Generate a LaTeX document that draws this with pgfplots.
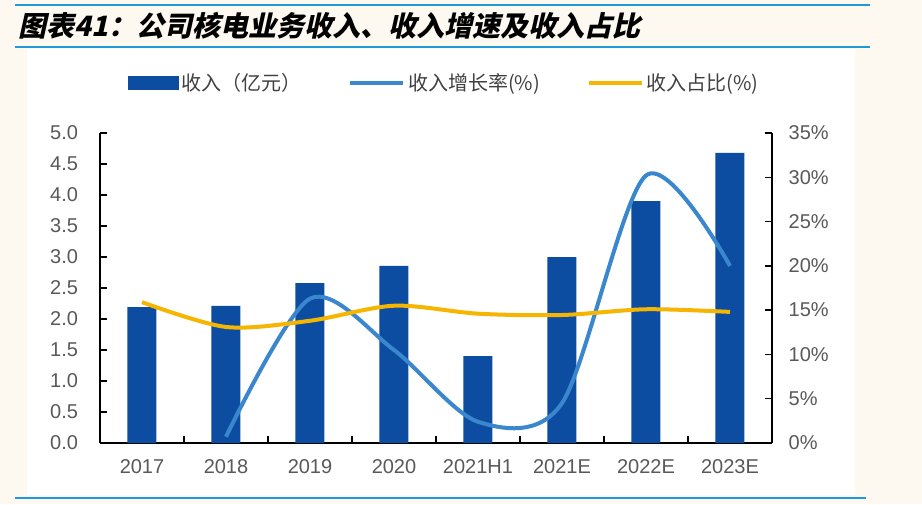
\documentclass[border=0pt]{standalone}
\usepackage{pgfplots}
\pgfplotsset{compat=1.18}
\usepackage{fontspec}
\setmainfont{Liberation Sans}
\newfontfamily\cjk{Noto Sans CJK SC}
\newfontfamily\cjktitle[FakeSlant=0.22]{Noto Sans CJK SC}

\definecolor{barblue}{RGB}{12,77,162}
\definecolor{lineblue}{RGB}{58,135,206}
\definecolor{lineyellow}{RGB}{245,181,0}
\definecolor{cream}{RGB}{253,249,240}
\definecolor{rulecol}{RGB}{30,155,215}
\definecolor{ticktext}{RGB}{89,89,89}
\definecolor{legtext}{RGB}{64,64,64}

\pgfplotsset{
  common/.style={
    at={(75pt,45.75pt)}, anchor=south west,
    scale only axis, width=504pt, height=232.5pt,
    xmin=-0.5, xmax=7.5,
    tick align=inside,
    tick style={black, line width=1pt},
    major tick length=5pt, minor tick length=5pt,
    tick label style={ticktext, font=\fontsize{15}{18}\selectfont},
    /pgf/number format/assume math mode=true,
    x axis line style={-, line width=1pt},
    y axis line style={-, line width=1pt},
  },
}

\begin{document}
\begin{tikzpicture}[x=0.75pt,y=0.75pt]
\useasboundingbox (0,0) rectangle (922,504);
\fill[cream] (0,0) rectangle (922,504);
\fill[white] (27,9) rectangle (855,455);
\draw[rulecol, line width=1.6pt] (15,499) -- (870,499);
\draw[rulecol, line width=1.6pt] (15,457) -- (870,457);
\draw[rulecol, line width=1.2pt] (15,6) -- (866,6);
\node[anchor=west, inner sep=0] at (18,478)
  {\fontsize{21}{24}\selectfont\cjktitle\bfseries 图表41：公司核电业务收入、收入增速及收入占比};

% revenue bars, left axis
\begin{axis}[common,
  ymin=0, ymax=5,
  axis x line*=bottom, axis y line*=left,
  xtick={0,...,7},
  xticklabels={2017,2018,2019,2020,2021H1,2021E,2022E,2023E},
  major x tick style={draw=none},
  minor xtick={0.5,1.5,...,6.5},
  xticklabel style={yshift=-9pt},
  ytick={0,0.5,...,5},
  yticklabel style={xshift=-13pt, /pgf/number format/.cd, fixed, fixed zerofill, precision=1},
]
\addplot[ybar, bar width=21.75pt, fill=barblue, draw=none] coordinates {
  (0,2.19) (1,2.21) (2,2.58) (3,2.855) (4,1.40) (5,3.00) (6,3.90) (7,4.68)
};
\end{axis}

% growth and share, right axis
\begin{axis}[common,
  ymin=0, ymax=35,
  axis x line=none, axis y line*=right,
  ytick={0,5,...,35},
  yticklabel={\pgfmathprintnumber{\tick}\%},
  yticklabel style={xshift=9pt},
  legend columns=3,
  legend style={at={(0.513,1.161)}, anchor=center, draw=none, fill=none,
    font=\fontsize{15}{17}\selectfont\cjk, text=legtext,
    /tikz/every even column/.append style={column sep=33pt}},
  legend image code/.code={\draw[#1] (0pt,0pt) -- (40pt,0pt);},
]
\addlegendimage{legend image code/.code={\fill[barblue] (0pt,-5pt) rectangle (37.5pt,5pt);}}
\addlegendentry{收入（亿元）}
\addplot[lineblue, line width=3pt, smooth] coordinates {
  (1,0.7) (2,16.3) (3,10.5) (4,2.4) (5,4.5) (6,30.2) (7,20.0)
};
\addlegendentry{收入增长率(\%)}
\addplot[lineyellow, line width=3pt, smooth] coordinates {
  (0,15.9) (1,13.1) (2,13.8) (3,15.5) (4,14.6) (5,14.45) (6,15.1) (7,14.8)
};
\addlegendentry{收入占比(\%)}
\end{axis}
\end{tikzpicture}
\end{document}
